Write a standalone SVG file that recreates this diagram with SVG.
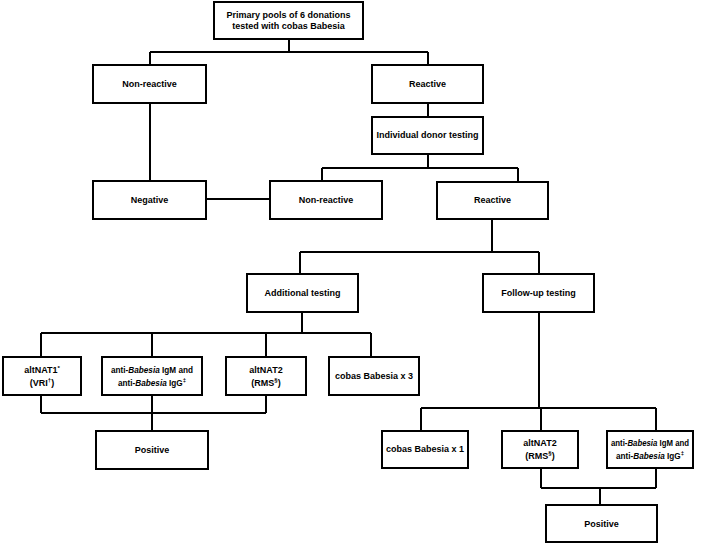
<svg xmlns="http://www.w3.org/2000/svg" width="709" height="544" viewBox="0 0 709 544">
<style>
.box{fill:#fff;stroke:#000;stroke-width:2}
.ln{fill:none;stroke:#000;stroke-width:2}
text{font-family:"Liberation Sans",Arial,sans-serif;font-weight:bold;font-size:9px;text-anchor:middle;fill:#000}
.it{font-style:italic}
.sup{font-size:6px}
.sm{font-size:8.2px}
</style>
<rect width="709" height="544" fill="#fff"/>
<g id="connectors">
<path class="ln" d="M289 39V52M150 52H428M150 52V65M428 52V65"/>
<path class="ln" d="M150 103V181M206 199H270"/>
<path class="ln" d="M428 103V117M428 154V168M322 168H518M322 168V181M518 168V182"/>
<path class="ln" d="M492 219V252M300 252H539M300 252V274M539 252V274"/>
<path class="ln" d="M302 312V333M41 333H371M41 333V357M152 333V357M266 333V357M371 333V357"/>
<path class="ln" d="M41 395V413M152 395V431M266 395V413M41 413H266"/>
<path class="ln" d="M539 312V408M421 408H656M421 408V431M541 408V431M656 408V431"/>
<path class="ln" d="M541 468V488M656 468V488M541 488H656M600 488V505"/>
</g>
<g id="n-pools"><rect class="box" x="214" y="2" width="149" height="37"/><text x="288.5" y="18">Primary pools of 6 donations</text><text x="288.5" y="29">tested with cobas Babesia</text></g>
<g id="n-nonreactive1"><rect class="box" x="93" y="65" width="113" height="38"/><text x="149.5" y="87">Non-reactive</text></g>
<g id="n-reactive1"><rect class="box" x="372" y="65" width="111" height="38"/><text x="427.5" y="87">Reactive</text></g>
<g id="n-individual"><rect class="box" x="372" y="117" width="111" height="37"/><text x="427.5" y="138">Individual donor testing</text></g>
<g id="n-negative"><rect class="box" x="93" y="181" width="113" height="38"/><text x="149.5" y="203">Negative</text></g>
<g id="n-nonreactive2"><rect class="box" x="270" y="181" width="112" height="38"/><text x="326" y="203">Non-reactive</text></g>
<g id="n-reactive2"><rect class="box" x="437" y="182" width="111" height="37"/><text x="492.5" y="203">Reactive</text></g>
<g id="n-additional"><rect class="box" x="247" y="274" width="111" height="38"/><text x="302.5" y="296">Additional testing</text></g>
<g id="n-followup"><rect class="box" x="483" y="274" width="111" height="38"/><text x="538.5" y="296">Follow-up testing</text></g>
<g id="n-altnat1"><rect class="box" x="3" y="357" width="78" height="38"/><text x="42" y="373">altNAT1<tspan class="sup" dy="-3">*</tspan></text><text x="42" y="386">(VRI<tspan class="sup" dy="-4">†</tspan><tspan dy="4">)</tspan></text></g>
<g id="n-anti1"><rect class="box" x="102" y="357" width="100" height="38"/><text class="sm" x="152" y="373">anti-<tspan class="it">Babesia</tspan> IgM and</text><text class="sm" x="152" y="386">anti-<tspan class="it">Babesia</tspan> IgG<tspan class="sup" dy="-4">‡</tspan></text></g>
<g id="n-altnat2a"><rect class="box" x="226" y="357" width="80" height="38"/><text x="266" y="373">altNAT2</text><text x="266" y="386">(RMS<tspan class="sup" dy="-4">§</tspan><tspan dy="4">)</tspan></text></g>
<g id="n-cobas3"><rect class="box" x="329" y="357" width="90" height="38"/><text x="374" y="379">cobas Babesia x 3</text></g>
<g id="n-positive1"><rect class="box" x="96" y="431" width="112" height="38"/><text x="152" y="453">Positive</text></g>
<g id="n-cobas1"><rect class="box" x="382" y="431" width="86" height="37"/><text x="425" y="452">cobas Babesia x 1</text></g>
<g id="n-altnat2b"><rect class="box" x="502" y="431" width="76" height="37"/><text x="540" y="446">altNAT2</text><text x="540" y="459">(RMS<tspan class="sup" dy="-4">§</tspan><tspan dy="4">)</tspan></text></g>
<g id="n-anti2"><rect class="box" x="607" y="431" width="86" height="37"/><text class="sm" x="650" y="446" textLength="78" lengthAdjust="spacingAndGlyphs">anti-<tspan class="it">Babesia</tspan> IgM and</text><text class="sm" x="650" y="459">anti-<tspan class="it">Babesia</tspan> IgG<tspan class="sup" dy="-4">‡</tspan></text></g>
<g id="n-positive2"><rect class="box" x="546" y="505" width="111" height="37"/><text x="601.5" y="527">Positive</text></g>
</svg>
